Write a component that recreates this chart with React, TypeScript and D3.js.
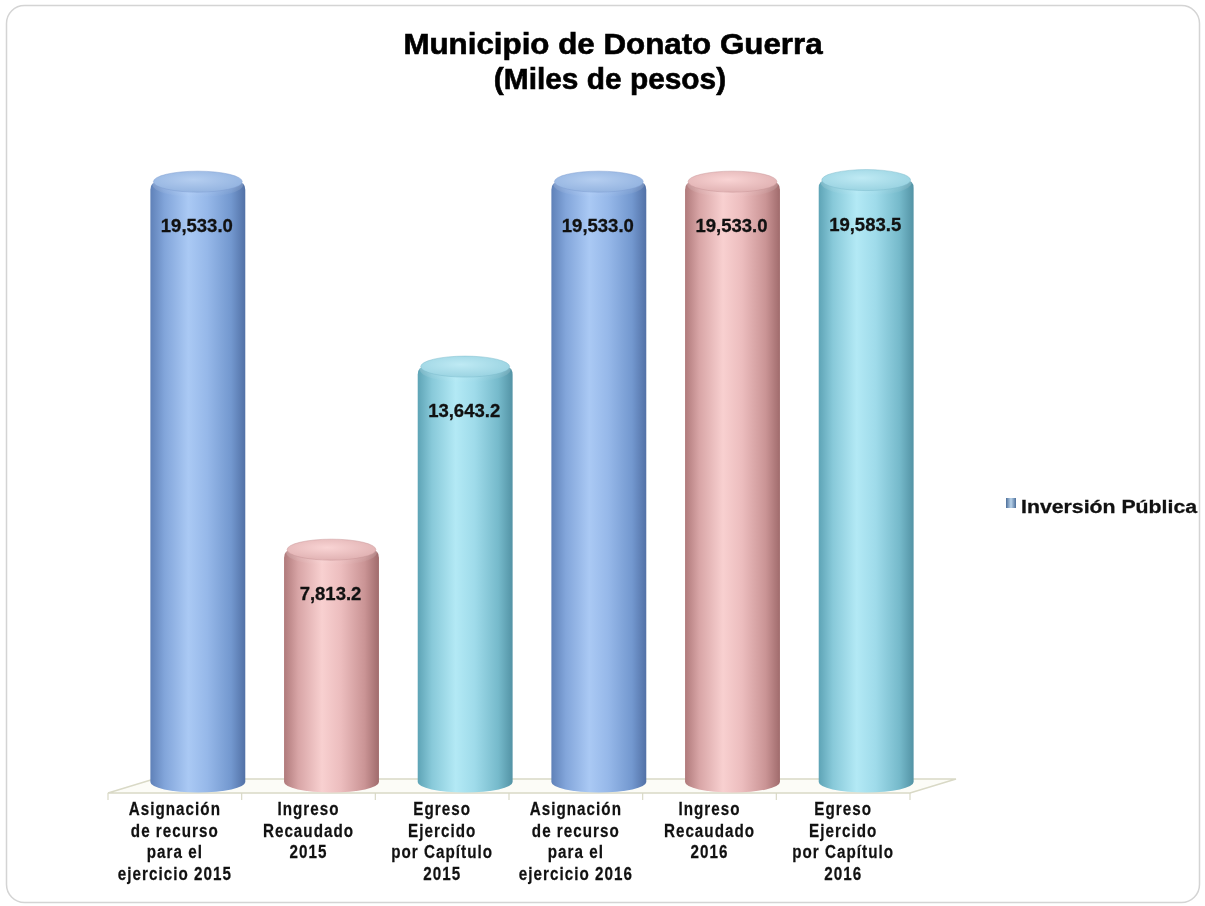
import React from "react";
import * as d3 from "d3";

const categories: string[][] = [
  ["Asignación", "de recurso", "para el", "ejercicio 2015"],
  ["Ingreso", "Recaudado", "2015"],
  ["Egreso", "Ejercido", "por Capítulo", "2015"],
  ["Asignación", "de recurso", "para el", "ejercicio 2016"],
  ["Ingreso", "Recaudado", "2016"],
  ["Egreso", "Ejercido", "por Capítulo", "2016"],
];
const values: number[] = [19533.0, 7813.2, 13643.2, 19533.0, 19533.0, 19583.5];
const colorKeys: string[] = ["blue", "pink", "teal", "blue", "pink", "teal"];
const seriesName = "Inversión Pública";
const titleLines = ["Municipio de Donato Guerra", "(Miles de pesos)"];

const palettes: Record<string, { body: string[]; cap: string[]; capEdge: string }> = {
  blue: {
    body: ["#5f81b8", "#82a5da", "#aac9f4", "#96b8e9", "#7398cf", "#5271a6"],
    cap: ["#b5cef0", "#8fb0de"],
    capEdge: "#7c9dd0",
  },
  pink: {
    body: ["#b07a7b", "#d8a5a6", "#f8d0d0", "#ecbdbe", "#ca9495", "#a06b6c"],
    cap: ["#f9d4d4", "#ddadae"],
    capEdge: "#c99495",
  },
  teal: {
    body: ["#5ea4b6", "#88c9d9", "#b3e9f5", "#9fdbea", "#76bacb", "#5393a5"],
    cap: ["#bfeaf4", "#95d0df"],
    capEdge: "#7dbccd",
  },
};
const stops = [0, 0.15, 0.4, 0.6, 0.85, 1];

export default function App() {
  const W = 1205;
  const H = 906;
  const floorLeft = 108;
  const floorRight = 910;
  const floorFrontY = 793;
  const depthX = 46;
  const depthY = -14;
  const baseY = 782;

  const x = d3
    .scaleBand<number>()
    .domain(d3.range(categories.length))
    .range([floorLeft, floorRight])
    .paddingInner(0)
    .paddingOuter(0);
  const y = d3.scaleLinear().domain([0, 20000]).range([795, 167]);

  const cylW = x.bandwidth() * 0.71;
  const rx = cylW / 2;
  const ry = 10.5;
  const font = "'Liberation Sans', Arial, sans-serif";

  return (
    <div style={{ position: "fixed", left: 0, top: 0 }}>
      <svg width={W} height={H} style={{ display: "block" }}>
        <defs>
          {Object.entries(palettes).map(([k, p]) => (
            <React.Fragment key={k}>
              <linearGradient id={`body-${k}`} x1="0" x2="1" y1="0" y2="0">
                {p.body.map((c, i) => (
                  <stop key={i} offset={stops[i]} stopColor={c} />
                ))}
              </linearGradient>
              <radialGradient id={`cap-${k}`} cx="0.45" cy="0.4" r="0.7">
                <stop offset="0" stopColor={p.cap[0]} />
                <stop offset="1" stopColor={p.cap[1]} />
              </radialGradient>
              <linearGradient id={`hl-${k}`} x1="0" x2="0" y1="0" y2="1">
                <stop offset="0" stopColor="#ffffff" stopOpacity="0.35" />
                <stop offset="1" stopColor="#ffffff" stopOpacity="0" />
              </linearGradient>
            </React.Fragment>
          ))}
          <linearGradient id="legendMark" x1="0" x2="1" y1="0" y2="0">
            <stop offset="0" stopColor="#4d6f9a" />
            <stop offset="0.5" stopColor="#b9d3ea" />
            <stop offset="1" stopColor="#4d6f9a" />
          </linearGradient>
        </defs>

        <rect x={6.5} y={5.5} width={1193} height={897} rx={18} ry={18} fill="#ffffff" stroke="#d4d4d4" strokeWidth={1.5} />

        {/* Title */}
        <g fontFamily={font} fontWeight="bold" fill="#000" stroke="#000" strokeWidth={0.6}>
          <text transform={`translate(613,54) scale(1.08,1)`} textAnchor="middle" fontSize={29}>
            {titleLines[0]}
          </text>
          <text transform={`translate(610,89) scale(1.03,1)`} textAnchor="middle" fontSize={29}>
            {titleLines[1]}
          </text>
        </g>

        {/* Floor */}
        <polygon
          points={[
            [floorLeft, floorFrontY],
            [floorRight, floorFrontY],
            [floorRight + depthX, floorFrontY + depthY],
            [floorLeft + depthX, floorFrontY + depthY],
          ]
            .map((p) => p.join(","))
            .join(" ")}
          fill="#fcfcf7"
          stroke="#d9d9c6"
          strokeWidth={1.5}
        />
        {d3.range(categories.length + 1).map((i) => {
          const tx = i < categories.length ? (x(i) as number) : floorRight;
          return <line key={i} x1={tx} x2={tx} y1={floorFrontY} y2={floorFrontY + 7} stroke="#d9d9c6" strokeWidth={1.2} />;
        })}

        {/* Cylinders */}
        {values.map((v, i) => {
          const cx = (x(i) as number) + x.bandwidth() / 2 + depthX / 2;
          const top = y(v);
          const k = colorKeys[i];
          const p = palettes[k];
          const left = cx - rx;
          const right = cx + rx;
          const corner = 8;
          const body = `M${left},${top + corner} L${left},${baseY} A${rx},${ry} 0 0 0 ${right},${baseY} L${right},${top + corner} Q${right},${top} ${right - corner},${top} L${left + corner},${top} Q${left},${top} ${left},${top + corner} Z`;
          return (
            <g key={i}>
              <path d={body} fill={`url(#body-${k})`} />
              <ellipse cx={cx} cy={top + 3} rx={rx - 2} ry={ry + 2} fill={`url(#hl-${k})`} />
              <ellipse cx={cx} cy={top} rx={rx - 3} ry={ry} fill={`url(#cap-${k})`} stroke={p.capEdge} strokeWidth={0.8} strokeOpacity={0.6} />
              <text
                x={cx - 1}
                y={top - ry + 61}
                textAnchor="middle"
                fontFamily={font}
                fontWeight="bold"
                fontSize={18.5}
                fill="#111"
                stroke="#111"
                strokeWidth={0.3}
              >
                {d3.format(",.1f")(v)}
              </text>
            </g>
          );
        })}

        {/* Category labels */}
        <g fontFamily={font} fontWeight="bold" fill="#111" stroke="#111" strokeWidth={0.25}>
          {categories.map((lines, i) => {
            const cx = (x(i) as number) + x.bandwidth() / 2;
            return (
              <g key={i} transform={`translate(${cx},0)`}>
                {lines.map((ln, j) => (
                  <text
                    key={j}
                    transform={`translate(0,${815 + j * 21.5}) scale(0.8,1)`}
                    textAnchor="middle"
                    fontSize={19}
                    letterSpacing={1.3}
                  >
                    {ln}
                  </text>
                ))}
              </g>
            );
          })}
        </g>

        {/* Legend */}
        <rect x={1006} y={498} width={10} height={10} fill="url(#legendMark)" />
        <text
          transform="translate(1021,513) scale(1.12,1)"
          fontFamily={font}
          fontWeight="bold"
          fontSize={19}
          fill="#111"
          stroke="#111"
          strokeWidth={0.3}
        >
          {seriesName}
        </text>
      </svg>
    </div>
  );
}
